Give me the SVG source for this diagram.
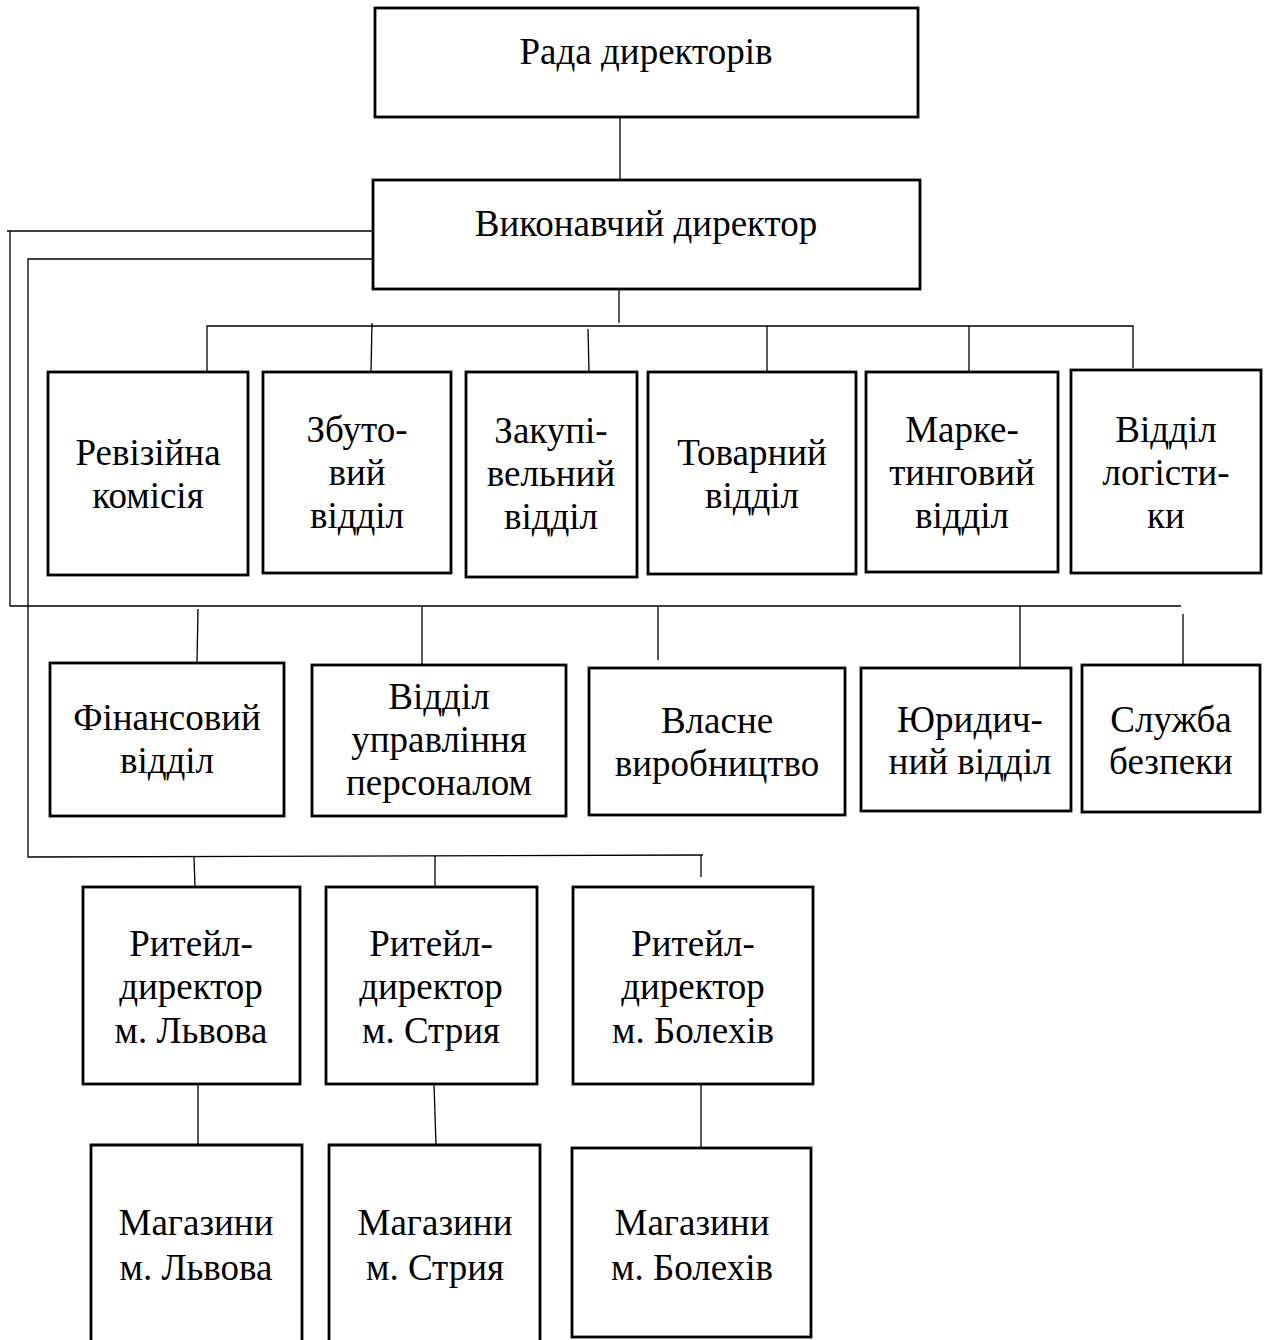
<svg xmlns="http://www.w3.org/2000/svg" width="1264" height="1340" viewBox="0 0 1264 1340">
<style>
.box{fill:#fff;stroke:#000;stroke-width:2.8}
.ln{fill:none;stroke:#000;stroke-width:1.3}
text{font-family:"Liberation Serif","Times New Roman",serif;font-size:37px;fill:#000;text-anchor:middle}
</style>
<rect width="1264" height="1340" fill="#fff"/>
<g id="connectors">
<line class="ln" x1="620" y1="117" x2="620" y2="180"/>
<line class="ln" x1="619" y1="289" x2="619" y2="323"/>
<polyline class="ln" points="207,372 207,326 1133,326 1133,368"/>
<line class="ln" x1="372" y1="323" x2="371" y2="372"/>
<line class="ln" x1="588" y1="329" x2="589" y2="372"/>
<line class="ln" x1="767" y1="326" x2="767" y2="372"/>
<line class="ln" x1="969" y1="326" x2="969" y2="372"/>
<polyline class="ln" points="373,231 7,231"/>
<polyline class="ln" points="10,231 10,606 1181,606"/>
<polyline class="ln" points="373,259 28,259 28,857 703,855"/>
<line class="ln" x1="198" y1="609" x2="197" y2="663"/>
<line class="ln" x1="422" y1="607" x2="422" y2="665"/>
<line class="ln" x1="658" y1="607" x2="658" y2="660"/>
<line class="ln" x1="1020" y1="606" x2="1020" y2="668"/>
<line class="ln" x1="1183" y1="614" x2="1183" y2="665"/>
<line class="ln" x1="194" y1="857" x2="195" y2="887"/>
<line class="ln" x1="435" y1="856" x2="435" y2="887"/>
<line class="ln" x1="701" y1="855" x2="701" y2="877"/>
<line class="ln" x1="198" y1="1084" x2="198" y2="1145"/>
<line class="ln" x1="434" y1="1084" x2="436" y2="1145"/>
<line class="ln" x1="701" y1="1084" x2="701" y2="1153"/>
</g>
<g id="n-rada"><rect class="box" x="375" y="8" width="543" height="109"/><text x="646" y="64">Рада директорів</text></g>
<g id="n-vykon"><rect class="box" x="373" y="180" width="547" height="109"/><text x="646" y="236">Виконавчий директор</text></g>
<g id="n-reviz"><rect class="box" x="48" y="372" width="200" height="203"/><text x="148" y="465">Ревізійна</text><text x="148" y="508">комісія</text></g>
<g id="n-zbut"><rect class="box" x="263" y="372" width="188" height="201"/><text x="357" y="442">Збуто-</text><text x="357" y="485">вий</text><text x="357" y="528">відділ</text></g>
<g id="n-zakup"><rect class="box" x="466" y="372" width="171" height="205"/><text x="551" y="443">Закупі-</text><text x="551" y="486">вельний</text><text x="551" y="529">відділ</text></g>
<g id="n-tovar"><rect class="box" x="648" y="372" width="208" height="202"/><text x="752" y="465">Товарний</text><text x="752" y="508">відділ</text></g>
<g id="n-market"><rect class="box" x="866" y="372" width="192" height="200"/><text x="962" y="442">Марке-</text><text x="962" y="485">тинговий</text><text x="962" y="528">відділ</text></g>
<g id="n-logist"><rect class="box" x="1071" y="370" width="190" height="203"/><text x="1166" y="442">Відділ</text><text x="1166" y="485">логісти-</text><text x="1166" y="528">ки</text></g>
<g id="n-fin"><rect class="box" x="50" y="663" width="234" height="153"/><text x="167" y="730">Фінансовий</text><text x="167" y="773">відділ</text></g>
<g id="n-pers"><rect class="box" x="312" y="665" width="254" height="151"/><text x="439" y="709">Відділ</text><text x="439" y="752">управління</text><text x="439" y="795">персоналом</text></g>
<g id="n-vyrob"><rect class="box" x="589" y="668" width="256" height="147"/><text x="717" y="733">Власне</text><text x="717" y="776">виробництво</text></g>
<g id="n-yur"><rect class="box" x="861" y="668" width="210" height="143"/><text x="970" y="732">Юридич-</text><text x="970" y="774">ний відділ</text></g>
<g id="n-sluzh"><rect class="box" x="1082" y="665" width="178" height="147"/><text x="1171" y="732">Служба</text><text x="1171" y="774">безпеки</text></g>
<g id="n-rd-lviv"><rect class="box" x="83" y="887" width="217" height="197"/><text x="191" y="956">Ритейл-</text><text x="191" y="999">директор</text><text x="191" y="1043">м. Львова</text></g>
<g id="n-rd-stryi"><rect class="box" x="326" y="887" width="211" height="197"/><text x="431" y="956">Ритейл-</text><text x="431" y="999">директор</text><text x="431" y="1043">м. Стрия</text></g>
<g id="n-rd-bol"><rect class="box" x="573" y="887" width="240" height="197"/><text x="693" y="956">Ритейл-</text><text x="693" y="999">директор</text><text x="693" y="1043">м. Болехів</text></g>
<g id="n-mag-lviv"><path class="box" d="M91,1342 V1145 H302 V1342"/><text x="196" y="1235">Магазини</text><text x="196" y="1280">м. Львова</text></g>
<g id="n-mag-stryi"><path class="box" d="M329,1342 V1145 H540 V1342"/><text x="435" y="1235">Магазини</text><text x="435" y="1280">м. Стрия</text></g>
<g id="n-mag-bol"><rect class="box" x="572" y="1148" width="239" height="189"/><text x="692" y="1235">Магазини</text><text x="692" y="1280">м. Болехів</text></g>
</svg>
